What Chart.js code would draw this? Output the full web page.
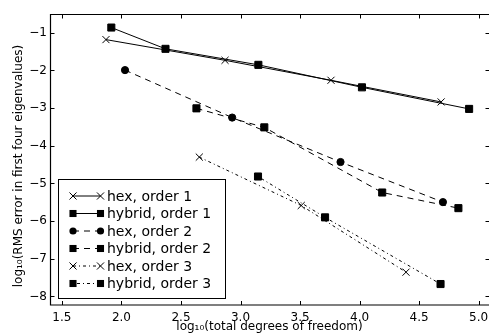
<!DOCTYPE html>
<html>
<head>
<meta charset="utf-8">
<script src="https://cdn.jsdelivr.net/npm/chart.js@4/dist/chart.umd.min.js"></script>
<style>
  html, body { margin: 0; padding: 0; background: #fff; }
  #wrap { width: 489px; height: 336px; }
</style>
</head>
<body>
<div id="wrap"><canvas id="errChart" width="489" height="336"></canvas></div>
<script>
// Data (log10 values)
const hexOrder1X = [1.87, 2.87, 3.76, 4.685];
const hexOrder1Y = [-1.18, -1.73, -2.26, -2.835];
const hybridOrder1X = [1.915, 2.37, 3.15, 4.02, 4.92];
const hybridOrder1Y = [-0.86, -1.425, -1.85, -2.447, -3.02];
const hexOrder2X = [2.03, 2.93, 3.84, 4.70];
const hexOrder2Y = [-1.99, -3.25, -4.43, -5.495];
const hybridOrder2X = [2.63, 3.20, 4.19, 4.83];
const hybridOrder2Y = [-3.005, -3.51, -5.24, -5.655];
const hexOrder3X = [2.654, 3.51, 4.39];
const hexOrder3Y = [-4.30, -5.585, -7.355];
const hybridOrder3X = [3.147, 3.71, 4.68];
const hybridOrder3Y = [-4.815, -5.90, -7.67];

const seriesLabels = ['hex, order 1', 'hybrid, order 1', 'hex, order 2', 'hybrid, order 2', 'hex, order 3', 'hybrid, order 3'];
const xTicks = [1.5, 2.0, 2.5, 3.0, 3.5, 4.0, 4.5, 5.0];
const yTicks = [-8, -7, -6, -5, -4, -3, -2, -1];

const FONT = "'DejaVu Sans', sans-serif";

function points(xs, ys) {
    return xs.map((x, i) => ({ x: x, y: ys[i] }));
}

// line styles per series
const styles = [
    { marker: 'crossRot', radius: 5, dash: [] },
    { marker: 'rect', radius: 5, dash: [] },
    { marker: 'circle', radius: 3.6, dash: [6, 5] },
    { marker: 'rect', radius: 5, dash: [6, 5] },
    { marker: 'crossRot', radius: 5, dash: [3, 3, 1, 3] },
    { marker: 'rect', radius: 5, dash: [1, 3, 3, 3] }
];

const seriesData = [
    points(hexOrder1X, hexOrder1Y),
    points(hybridOrder1X, hybridOrder1Y),
    points(hexOrder2X, hexOrder2Y),
    points(hybridOrder2X, hybridOrder2Y),
    points(hexOrder3X, hexOrder3Y),
    points(hybridOrder3X, hybridOrder3Y)
];

const datasets = seriesData.map((data, i) => ({
    label: seriesLabels[i],
    data: data,
    showLine: true,
    borderColor: '#000',
    backgroundColor: '#000',
    borderWidth: 1,
    borderDash: styles[i].dash,
    pointStyle: styles[i].marker,
    pointRadius: styles[i].radius,
    pointBorderWidth: 1,
    pointBorderColor: '#000',
    pointBackgroundColor: '#000'
}));

function drawMarker(ctx, style, x, y) {
    ctx.save();
    ctx.setLineDash([]);
    ctx.fillStyle = '#000';
    ctx.strokeStyle = '#000';
    ctx.lineWidth = 1;
    if (style.marker === 'rect') {
        const s = style.radius * Math.SQRT1_2;
        ctx.fillRect(x - s, y - s, 2 * s, 2 * s);
    } else if (style.marker === 'circle') {
        ctx.beginPath();
        ctx.arc(x, y, style.radius, 0, Math.PI * 2);
        ctx.fill();
    } else {
        const s = style.radius * Math.SQRT1_2;
        ctx.beginPath();
        ctx.moveTo(x - s, y - s); ctx.lineTo(x + s, y + s);
        ctx.moveTo(x - s, y + s); ctx.lineTo(x + s, y - s);
        ctx.stroke();
    }
    ctx.restore();
}

// frame with inward ticks, axis titles and the boxed legend
const framePlugin = {
    id: 'frame',
    afterDraw(chart) {
        const ctx = chart.ctx;
        const area = chart.chartArea;
        const xs = chart.scales.x;
        const ys = chart.scales.y;
        const L = area.left + 0.5, T = area.top + 0.5, B = area.bottom - 0.5, R = area.right + 0.5;
        ctx.save();
        ctx.strokeStyle = '#000';
        ctx.lineWidth = 1.2;
        ctx.beginPath();
        ctx.moveTo(R + 2, T); ctx.lineTo(L, T); ctx.lineTo(L, B); ctx.lineTo(R + 2, B);
        ctx.stroke();
        ctx.lineWidth = 1;
        ctx.beginPath();
        xTicks.forEach(v => {
            const px = Math.round(xs.getPixelForValue(v)) + 0.5;
            ctx.moveTo(px, B); ctx.lineTo(px, B - 4);
            ctx.moveTo(px, T); ctx.lineTo(px, T + 4);
        });
        yTicks.forEach(v => {
            const py = Math.round(ys.getPixelForValue(v)) + 0.5;
            ctx.moveTo(L, py); ctx.lineTo(L + 4, py);
            ctx.moveTo(R, py); ctx.lineTo(R - 4, py);
        });
        ctx.stroke();

        // axis titles
        ctx.fillStyle = '#000';
        ctx.font = '12px ' + FONT;
        ctx.textAlign = 'center';
        ctx.textBaseline = 'alphabetic';
        ctx.fillText('log\u2081\u2080(total degrees of freedom)', (area.left + area.right) / 2, 330);
        ctx.save();
        ctx.translate(22, 166);
        ctx.rotate(-Math.PI / 2);
        ctx.fillText('log\u2081\u2080(RMS error in first four eigenvalues)', 0, 0);
        ctx.restore();

        // legend
        const lx = 58.5, ly = 179.5, lw = 167, lh = 119;
        ctx.fillStyle = '#fff';
        ctx.fillRect(lx, ly, lw, lh);
        ctx.strokeStyle = '#000';
        ctx.lineWidth = 1;
        ctx.strokeRect(lx, ly, lw, lh);
        ctx.font = '14px ' + FONT;
        ctx.textAlign = 'left';
        ctx.textBaseline = 'middle';
        seriesLabels.forEach((label, i) => {
            const y = 196 + i * 17.5;
            const x0 = 73, x1 = 100.5;
            ctx.save();
            ctx.setLineDash(styles[i].dash);
            ctx.beginPath();
            ctx.moveTo(x0, y); ctx.lineTo(x1, y);
            ctx.stroke();
            ctx.restore();
            drawMarker(ctx, styles[i], x0, y);
            drawMarker(ctx, styles[i], x1, y);
            ctx.fillStyle = '#000';
            ctx.fillText(label, 107, y + 1);
        });
        ctx.restore();
    }
};

new Chart(document.getElementById('errChart').getContext('2d'), {
    type: 'scatter',
    data: { datasets: datasets },
    options: {
        responsive: false,
        animation: false,
        devicePixelRatio: 1,
        layout: { autoPadding: false, padding: { top: 14, right: 0, left: 0, bottom: 0 } },
        plugins: {
            legend: { display: false },
            tooltip: { enabled: false }
        },
        scales: {
            x: {
                type: 'linear',
                min: 1.4,
                max: 5.087,
                grid: { display: false, drawTicks: false },
                border: { display: false },
                afterBuildTicks: scale => { scale.ticks = xTicks.map(v => ({ value: v })); },
                afterFit: scale => {
                    scale.height = 30.5;
                    scale.paddingLeft = 0;
                    scale.paddingRight = 0;
                },
                ticks: {
                    padding: 5,
                    maxRotation: 0,
                    color: '#000',
                    font: { family: FONT, size: 12 },
                    callback: v => v.toFixed(1)
                }
            },
            y: {
                type: 'linear',
                min: -8.24,
                max: -0.5,
                grid: { display: false, drawTicks: false },
                border: { display: false },
                afterBuildTicks: scale => { scale.ticks = yTicks.map(v => ({ value: v })); },
                afterFit: scale => {
                    scale.width = 50;
                    scale.paddingTop = 0;
                    scale.paddingBottom = 0;
                },
                ticks: {
                    padding: 3,
                    color: '#000',
                    font: { family: FONT, size: 12 },
                    callback: v => (v < 0 ? '\u2212' : '') + Math.abs(v)
                }
            }
        }
    },
    plugins: [framePlugin]
});
</script>
</body>
</html>
